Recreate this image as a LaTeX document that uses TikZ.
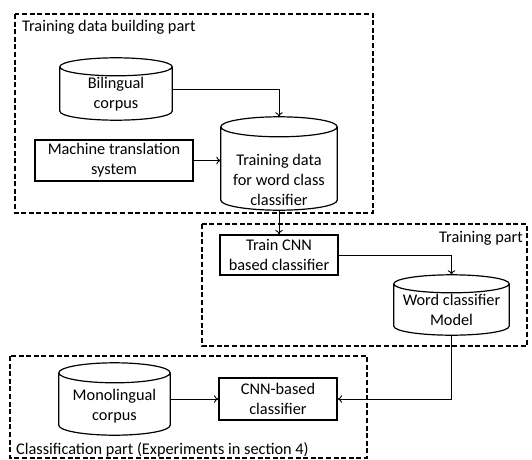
\documentclass[tikz,border=0pt]{standalone}
\usepackage{fontspec}
\setmainfont{Carlito}
\usetikzlibrary{arrows.meta,calc}
\begin{document}
\begin{tikzpicture}[x=1pt,y=1pt,
  part/.style={draw, line width=1.3pt, dash pattern=on 5pt off 2.6pt},
  box/.style={draw, line width=1.2pt, align=center, inner sep=0pt},
  cylshape/.style={inner sep=0pt},
  cyltext/.style={align=center, inner sep=0pt},
  conn/.style={line width=0.9pt, -{To[length=4.5pt,width=7.5pt]}},
  lbl/.style={inner sep=0pt},
  font=\fontsize{16.3}{20}\selectfont]
\useasboundingbox (0,0) rectangle (532,459);
\newcommand\drawcyl[2]{%
  \draw[line width=1.2pt] let \p1=(#1.north west), \p2=(#1.south east), \n1={(\x2-\x1)/2} in
    (\x1,\y1-#2pt) -- (\x1,\y2+#2pt)
    arc[start angle=180,end angle=360,x radius=\n1,y radius=#2pt]
    -- (\x2,\y1-#2pt)
    arc[start angle=0,end angle=180,x radius=\n1,y radius=#2pt]
    arc[start angle=180,end angle=360,x radius=\n1,y radius=#2pt];}

% dashed parts
\draw[part] (15,445) rectangle (373,246);
\draw[part] (202,235) rectangle (527,113);
\draw[part] (10,103) rectangle (367,1);
\node[lbl, anchor=west] (lb1) at (22,432) {Training data building part};
\node[lbl, anchor=east] (lb2) at (523,221) {Training part};
\node[lbl, anchor=west] (lb3) at (16,9) {Classification part (Experiments in section 4)};

% cylinders
\node[cylshape, minimum width=112pt, minimum height=62pt] (bil) at (116,370) {};
\drawcyl{bil}{9}
\node[cyltext] (bilT) at ([yshift=-5pt]bil.center) {Bilingual\\corpus};

\node[cylshape, minimum width=116pt, minimum height=93pt] (tdc) at (279,295.5) {};
\drawcyl{tdc}{10}
\node[cyltext] (tdcT) at ([yshift=-16pt]tdc.center) {Training data\\for word class\\classifier};

\node[cylshape, minimum width=115pt, minimum height=60pt] (wcm) at (451.5,154) {};
\drawcyl{wcm}{9}
\node[cyltext] (wcmT) at ([yshift=-5pt]wcm.center) {Word classifier\\Model};

\node[cylshape, minimum width=111pt, minimum height=72pt] (mono) at (114.5,60) {};
\drawcyl{mono}{10}
\node[cyltext] (monoT) at ([yshift=-7pt]mono.center) {Monolingual\\corpus};

% boxes
\node[box, minimum width=158pt, minimum height=41pt] (mt) at (114,298.5) {Machine translation\\system};
\node[box, minimum width=118pt, minimum height=40pt] (tcnn) at (279,204) {Train CNN\\based classifier};
\node[box, minimum width=118pt, minimum height=42pt] (cnn) at (278,60) {CNN-based\\classifier};

% connectors
\draw[conn] (bil.east) -| (tdc.north);
\draw[conn] (mt.east) -- (mt.east -| tdc.west);
\draw[conn] (tdc.south) -- (tcnn.north);
\draw[conn] (tcnn.east) -| (wcm.north);
\draw[conn] (wcm.south) |- (cnn.east);
\draw[conn] (mono.east) -- (cnn.west);
\end{tikzpicture}
\end{document}
